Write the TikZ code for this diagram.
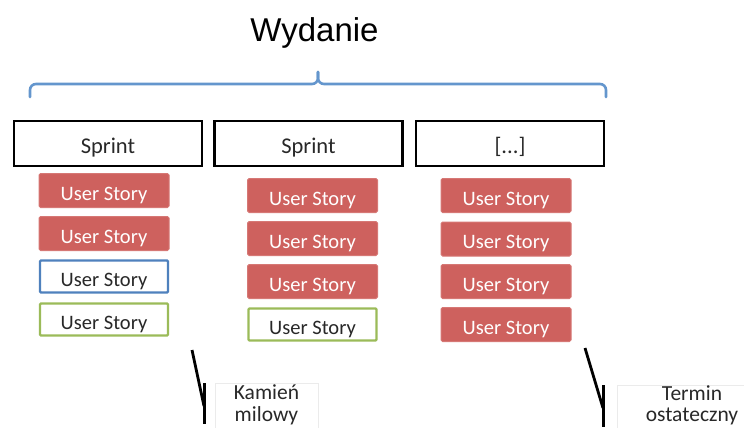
\documentclass[tikz,border=0pt]{standalone}
\usepackage{fontspec}
\setmainfont{Carlito}
\newfontfamily\titlefont{Liberation Sans}
\definecolor{usred}{RGB}{206,97,94}
\definecolor{usredb}{RGB}{214,120,117}
\definecolor{usblue}{RGB}{79,129,189}
\definecolor{usgreen}{RGB}{155,187,89}
\definecolor{bracec}{RGB}{100,150,205}
\definecolor{txtgray}{RGB}{40,40,40}
\tikzset{
  sprintbox/.style={draw=black, line width=2.6pt, minimum width=188pt, minimum height=45pt, inner sep=0pt, text height=19pt, text depth=0pt, font=\fontsize{22.5}{26}\selectfont, text=txtgray},
  storyred/.style={fill=usred, draw=usredb, line width=1pt, rounded corners=1.5pt, minimum width=130pt, minimum height=34pt, inner sep=0pt, text height=19pt, text depth=0pt, text=white, font=\fontsize{20.5}{24}\selectfont},
  storyline/.style={fill=white, line width=2.4pt, rounded corners=1pt, minimum width=128pt, minimum height=32pt, inner sep=0pt, text height=19pt, text depth=0pt, text=txtgray, font=\fontsize{20.5}{24}\selectfont},
  callout/.style={draw=black, line width=2.8pt},
  labelbox/.style={draw=black!8, line width=0.6pt, anchor=north west},
  labeltext/.style={text=txtgray, font=\fontsize{21.5}{23}\selectfont, anchor=base, inner sep=0pt},
  bracepath/.style={bracec, line width=2.6pt, line cap=round, rounded corners=6pt},
}
\begin{document}
\begin{tikzpicture}[x=1pt,y=-1pt]
\useasboundingbox (0,0) rectangle (744,428);
% title
\node[font=\titlefont\fontsize{33}{36}\selectfont, anchor=base, text=black] (title) at (314.5,42) {Wydanie};
% brace
\coordinate (bl) at (30,97);
\coordinate (bm) at (318,72);
\coordinate (br) at (606,97);
\draw[bracepath] (bl) -- (30,84) -- (318,84) -- (bm);
\draw[bracepath] (bm) -- (318,84) -- (606,84) -- (br);
% sprints
\node[sprintbox] (s1) at (108,143.5) {Sprint};
\node[sprintbox] (s2) at (308.5,143.5) {Sprint};
\node[sprintbox] (s3) at (510,143.5) {[...]};
% column 1
\node[storyred] (a1) at (104,190.5) {User Story};
\node[storyred] (a2) at (104,233.5) {User Story};
\node[storyline, draw=usblue] (a3) at (104,276.5) {User Story};
\node[storyline, draw=usgreen] (a4) at (104,319.5) {User Story};
% column 2
\node[storyred] (b1) at (312.5,195.5) {User Story};
\node[storyred] (b2) at (312.5,238.5) {User Story};
\node[storyred] (b3) at (312.5,281.5) {User Story};
\node[storyline, draw=usgreen] (b4) at (312.5,324.5) {User Story};
% column 3
\node[storyred] (c1) at (506,195.5) {User Story};
\node[storyred] (c2) at (506,239) {User Story};
\node[storyred] (c3) at (506,281.5) {User Story};
\node[storyred] (c4) at (506,324.5) {User Story};
% milestone
\node[labelbox, minimum width=103pt, minimum height=50pt] (km) at (215,383) {};
\node[labeltext] (km1) at (266.5,399) {Kamień};
\node[labeltext] (km2) at (266.5,421) {milowy};
\coordinate (k0) at (192,350);
\coordinate (k1) at (204,406);
\coordinate (k2) at (204.5,383);
\coordinate (k3) at (204.5,424);
\draw[callout] (k0) -- (k1);
\draw[callout] (k2) -- (k3);
% deadline
\node[labelbox, minimum width=150pt, minimum height=50pt] (tm) at (617,385) {};
\node[labeltext] (tm1) at (692,400) {Termin};
\node[labeltext] (tm2) at (692,421) {ostateczny};
\coordinate (t0) at (585,348);
\coordinate (t1) at (603,408);
\coordinate (t2) at (603.5,385);
\coordinate (t3) at (603.5,427);
\draw[callout] (t0) -- (t1);
\draw[callout] (t2) -- (t3);
\end{tikzpicture}
\end{document}
